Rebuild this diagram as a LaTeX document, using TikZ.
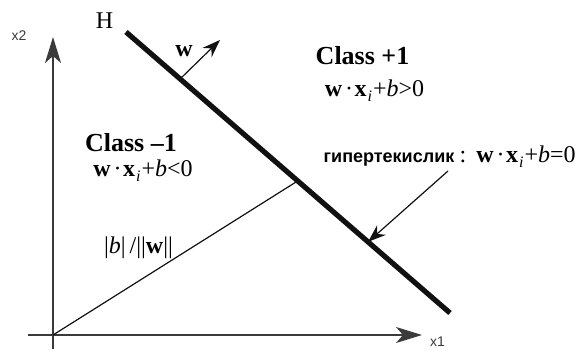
\documentclass[tikz,border=0pt]{standalone}
\usepackage{fontspec}
\setmainfont{Liberation Serif}
\setsansfont{Liberation Sans}
\usepackage{xcolor}
\usetikzlibrary{calc,arrows.meta,positioning}
\definecolor{axc}{HTML}{3A3A3A}
\definecolor{inkc}{HTML}{111111}
\tikzset{
  ax/.style={-{Stealth[length=13pt,width=8pt,inset=3.5pt]},line width=0.75pt,axc},
  ar/.style={-{Stealth[length=9pt,width=6.5pt,inset=3pt]},line width=0.6pt,inkc},
  hyp/.style={line width=2.6pt,inkc},
  lbl/.style={anchor=base,inner sep=0pt,font=\fontsize{12}{14}\selectfont},
  axlbl/.style={anchor=base,inner sep=0pt,font=\sffamily\fontsize{7}{8}\selectfont,axc}
}
\newcommand{\wx}{\textbf{w}\kern1.5pt·\kern0.8pt\textbf{x}\kern0.5pt\raisebox{-2.5pt}{\fontsize{8}{9}\selectfont\textit{i}}\kern0.5pt+\textit{b}}

\begin{document}
\begin{tikzpicture}[x=0.5pt,y=-0.5pt]
\useasboundingbox (0,0) rectangle (581,351);
% axes
\coordinate (O) at (53,335);
\coordinate (xs) at (28,335);
\coordinate (xe) at (422,335);
\coordinate (ys) at (53,349);
\coordinate (ye) at (53,37);
\draw[ax] (xs)--(xe);
\draw[ax] (ys)--(ye);
\node[axlbl] (xa) at (437.5,346) {x1};
\node[axlbl] (ya) at (19,41) {x2};
% hyperplane
\coordinate (Ha) at (126,32);
\coordinate (Hb) at (450,313);
\draw[hyp] (Ha)--(Hb);
\node[lbl] (hlab) at (104.5,29) {H};
% normal vector and distance
\coordinate (Wf) at ($(Ha)!0.167!(Hb)$);
\coordinate (Wt) at (220,40);
\draw[ar] (Wf)--(Wt);
\node[lbl,font=\bfseries\fontsize{12}{14}\selectfont] (wlab) at (184,57) {w};
\coordinate (N) at ($(Ha)!0.53!(Hb)$);
\draw[line width=0.6pt,inkc] (O)--(N);
\node[lbl] (dist) at (138.5,254) {|\textit{b}|\,/||\textbf{w}||};
% classes
\node[lbl,font=\bfseries\fontsize{13}{15}\selectfont] (cpos) at (362.5,65) {Class +1};
\node[lbl] (epos) at (374.5,97) {\wx>0};
\node[lbl,font=\bfseries\fontsize{13}{15}\selectfont] (cneg) at (131,152) {Class --1};
\node[lbl] (eneg) at (143,177) {\wx<0};
% hyperplane label
\node[lbl,font=\sffamily\bfseries\fontsize{9}{10}\selectfont] (hypw) at (389,163) {гипертекислик};
\node[lbl,font=\fontsize{12}{14}\selectfont] (hypc) at (463,163) {:};
\node[lbl] (hype) at (526,163) {\wx=0};
\coordinate (Pt) at (448,171);
\draw[ar] (Pt)--($(Ha)!0.747!(Hb)$);
\end{tikzpicture}
\end{document}
